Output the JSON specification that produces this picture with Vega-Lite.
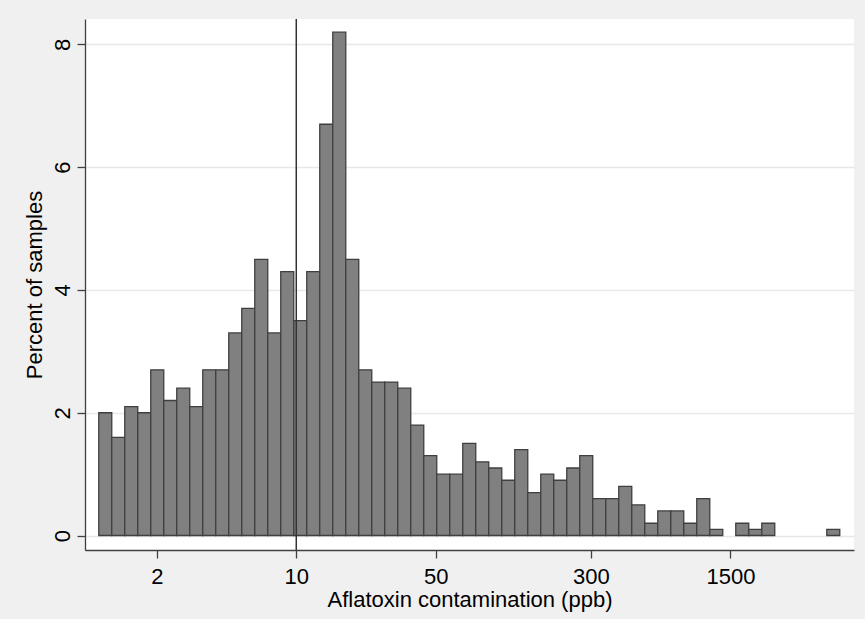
{
  "$schema": "https://vega.github.io/schema/vega-lite/v6.json",
  "width": 769,
  "height": 531,
  "autosize": {"type": "none"},
  "padding": {"left": 85, "top": 19, "right": 11, "bottom": 69},
  "background": "#f0f0f0",
  "config": {"view": {"fill": "white", "stroke": null}, "font": "Liberation Sans"},
  "layer": [
    {
      "data": {"values": [
        {"lo": 1.0233, "hi": 1.1889, "pct": 2.0},
        {"lo": 1.1889, "hi": 1.3814, "pct": 1.6},
        {"lo": 1.3814, "hi": 1.6050, "pct": 2.1},
        {"lo": 1.6050, "hi": 1.8648, "pct": 2.0},
        {"lo": 1.8648, "hi": 2.1667, "pct": 2.7},
        {"lo": 2.1667, "hi": 2.5174, "pct": 2.2},
        {"lo": 2.5174, "hi": 2.9250, "pct": 2.4},
        {"lo": 2.9250, "hi": 3.3985, "pct": 2.1},
        {"lo": 3.3985, "hi": 3.9486, "pct": 2.7},
        {"lo": 3.9486, "hi": 4.5878, "pct": 2.7},
        {"lo": 4.5878, "hi": 5.3305, "pct": 3.3},
        {"lo": 5.3305, "hi": 6.1934, "pct": 3.7},
        {"lo": 6.1934, "hi": 7.1960, "pct": 4.5},
        {"lo": 7.1960, "hi": 8.3609, "pct": 3.3},
        {"lo": 8.3609, "hi": 9.7144, "pct": 4.3},
        {"lo": 9.7144, "hi": 11.287, "pct": 3.5},
        {"lo": 11.287, "hi": 13.114, "pct": 4.3},
        {"lo": 13.114, "hi": 15.237, "pct": 6.7},
        {"lo": 15.237, "hi": 17.704, "pct": 8.2},
        {"lo": 17.704, "hi": 20.570, "pct": 4.5},
        {"lo": 20.570, "hi": 23.900, "pct": 2.7},
        {"lo": 23.900, "hi": 27.769, "pct": 2.5},
        {"lo": 27.769, "hi": 32.264, "pct": 2.5},
        {"lo": 32.264, "hi": 37.487, "pct": 2.4},
        {"lo": 37.487, "hi": 43.555, "pct": 1.8},
        {"lo": 43.555, "hi": 50.606, "pct": 1.3},
        {"lo": 50.606, "hi": 58.798, "pct": 1.0},
        {"lo": 58.798, "hi": 68.316, "pct": 1.0},
        {"lo": 68.316, "hi": 79.375, "pct": 1.5},
        {"lo": 79.375, "hi": 92.224, "pct": 1.2},
        {"lo": 92.224, "hi": 107.15, "pct": 1.1},
        {"lo": 107.15, "hi": 124.50, "pct": 0.9},
        {"lo": 124.50, "hi": 144.65, "pct": 1.4},
        {"lo": 144.65, "hi": 168.07, "pct": 0.7},
        {"lo": 168.07, "hi": 195.27, "pct": 1.0},
        {"lo": 195.27, "hi": 226.88, "pct": 0.9},
        {"lo": 226.88, "hi": 263.61, "pct": 1.1},
        {"lo": 263.61, "hi": 306.28, "pct": 1.3},
        {"lo": 306.28, "hi": 355.86, "pct": 0.6},
        {"lo": 355.86, "hi": 413.47, "pct": 0.6},
        {"lo": 413.47, "hi": 480.40, "pct": 0.8},
        {"lo": 480.40, "hi": 558.17, "pct": 0.5},
        {"lo": 558.17, "hi": 648.52, "pct": 0.2},
        {"lo": 648.52, "hi": 753.50, "pct": 0.4},
        {"lo": 753.50, "hi": 875.48, "pct": 0.4},
        {"lo": 875.48, "hi": 1017.2, "pct": 0.2},
        {"lo": 1017.2, "hi": 1181.9, "pct": 0.6},
        {"lo": 1181.9, "hi": 1373.2, "pct": 0.1},
        {"lo": 1595.5, "hi": 1853.8, "pct": 0.2},
        {"lo": 1853.8, "hi": 2153.9, "pct": 0.1},
        {"lo": 2153.9, "hi": 2502.5, "pct": 0.2},
        {"lo": 4560.6, "hi": 5298.9, "pct": 0.1}
      ]},
      "mark": {"type": "bar", "fill": "#808080", "stroke": "#3f3f3f", "strokeWidth": 1.3, "cornerRadius": 0},
      "encoding": {
        "x": {
          "field": "lo", "type": "quantitative",
          "scale": {"type": "log", "domain": [0.873, 6245], "nice": false, "zero": false},
          "axis": {
            "title": "Aflatoxin contamination (ppb)",
            "values": [2, 10, 50, 300, 1500],
            "format": "d",
            "grid": false,
            "domainColor": "#404040", "domainWidth": 1.3,
            "tickColor": "#404040", "tickWidth": 1.3, "tickSize": 8,
            "labelFontSize": 22, "labelColor": "#000000", "labelPadding": 8,
            "titleFontSize": 22, "titleFontWeight": "normal", "titleColor": "#000000", "titlePadding": 2
          }
        },
        "x2": {"field": "hi"},
        "y": {
          "field": "pct", "type": "quantitative",
          "scale": {"domain": [-0.236, 8.415], "nice": false, "zero": false},
          "axis": {
            "title": "Percent of samples",
            "values": [0, 2, 4, 6, 8],
            "grid": true, "gridColor": "#e8e8e8", "gridWidth": 1.3,
            "domainColor": "#404040", "domainWidth": 1.3,
            "tickColor": "#404040", "tickWidth": 1.3, "tickSize": 8,
            "labelAngle": -90, "labelAlign": "center", "labelBaseline": "alphabetic",
            "labelFontSize": 22, "labelColor": "#000000", "labelPadding": 8,
            "titleFontSize": 22, "titleFontWeight": "normal", "titleColor": "#000000", "titlePadding": 5
          }
        },
        "y2": {"datum": 0}
      }
    },
    {
      "data": {"values": [{"ref": 10}]},
      "mark": {"type": "rule", "color": "#333333", "strokeWidth": 1.5},
      "encoding": {"x": {"field": "ref", "type": "quantitative"}}
    }
  ]
}
